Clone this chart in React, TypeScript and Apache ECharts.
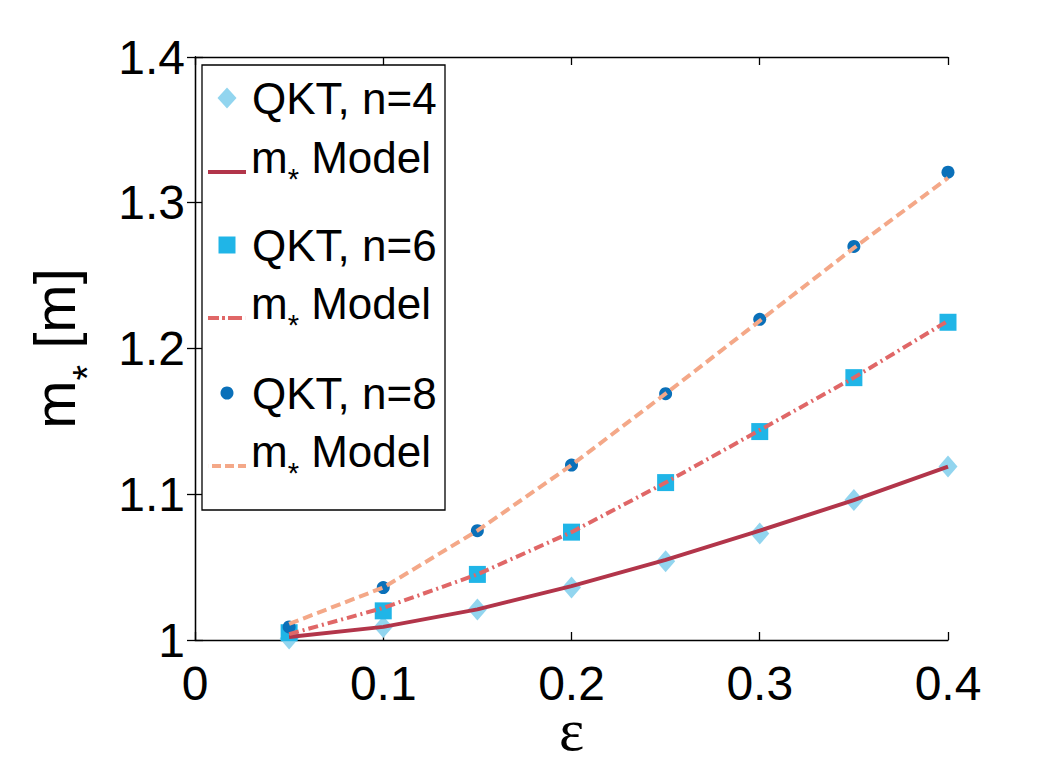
import React, { useEffect, useRef } from "react";
import * as echarts from "echarts";

const eps = [0.05, 0.1, 0.15, 0.2, 0.25, 0.3, 0.35, 0.4];
const qkt4 = [1.001, 1.009, 1.021, 1.036, 1.054, 1.073, 1.096, 1.119];
const model4 = [1.002, 1.009, 1.021, 1.037, 1.055, 1.075, 1.096, 1.119];
const qkt6 = [1.005, 1.020, 1.045, 1.074, 1.108, 1.143, 1.180, 1.218];
const model6 = [1.004, 1.022, 1.045, 1.074, 1.108, 1.144, 1.180, 1.219];
const qkt8 = [1.009, 1.036, 1.075, 1.120, 1.169, 1.220, 1.270, 1.321];
const model8 = [1.011, 1.036, 1.075, 1.120, 1.169, 1.219, 1.269, 1.317];

const SANS = "Liberation Sans";
const pairs = (ys: number[]) => eps.map((x, i) => [x, ys[i]]);

const ICON_SOLID = "path://M0,0h38v4h-38z";
const ICON_DASHDOT = "path://M0,0h11v4h-11z M14,0h3v4h-3z M20,0h14v4h-14z M37.9,0h0.1v4h-0.1z";
const ICON_DASH = "path://M0,0h0.1v4h-0.1z M4,0h9v4h-9z M17,0h9v4h-9z M30,0h8v4h-8z";

export default function App() {
  const ref = useRef<HTMLDivElement>(null);
  useEffect(() => {
    document.body.style.margin = "0";
    const chart = echarts.init(ref.current!, null, { renderer: "svg" });
    const LFS = 44;
    const rich = {
      a: { fontSize: LFS, fontFamily: SANS, color: "#000" },
      s: { fontSize: 29, fontFamily: SANS, color: "#000", height: 2, verticalAlign: "bottom" },
    };
    const fmt = (name: string) =>
      name.startsWith("Model") ? "{a|m}{s|*}{a| Model}" : "{a|" + name + "}";
    const scatterRow = (name: string, cy: number, w: number, h: number) => ({
      data: [name],
      left: 227 - w / 2,
      top: cy - 23,
      padding: 0,
      itemWidth: w,
      itemHeight: h,
      itemGap: 0,
      selectedMode: false,
      formatter: fmt,
      z: 10,
      textStyle: {
        fontSize: LFS,
        fontFamily: SANS,
        color: "#000",
        lineHeight: 46,
        padding: [0, 0, 0, 252 - (227 - w / 2 + w + 5)],
        rich,
      },
    });
    const lineRow = (name: string, cy: number, icon: string) => ({
      data: [{ name, icon }],
      left: 208,
      top: cy - 38,
      padding: 0,
      itemWidth: 38,
      itemHeight: 4,
      itemGap: 0,
      selectedMode: false,
      formatter: fmt,
      z: 10,
      textStyle: {
        fontSize: LFS,
        fontFamily: SANS,
        color: "#000",
        lineHeight: 46,
        padding: [0, 0, 30, 0],
        rich,
      },
    });
    const axisStyle = { lineStyle: { color: "#000", width: 1.3 } };
    const tickStyle = { inside: true, length: 8, lineStyle: { color: "#000", width: 1.3 } };
    chart.setOption({
      animation: false,
      backgroundColor: "#fff",
      grid: {
        left: 195,
        right: 101,
        top: 57,
        bottom: 126,
        containLabel: false,
        outerBoundsMode: "none",
      },
      xAxis: [
        {
          type: "value",
          min: 0,
          max: 0.4,
          interval: 0.1,
          position: "bottom",
          axisLine: axisStyle,
          axisTick: tickStyle,
          splitLine: { show: false },
          axisLabel: {
            fontSize: 48,
            lineHeight: 48,
            fontFamily: SANS,
            color: "#000",
            margin: 19,
          },
          name: "ε",
          nameLocation: "middle",
          nameGap: 70,
          nameMoveOverlap: false,
          nameTextStyle: {
            fontSize: 60,
            lineHeight: 40,
            fontFamily: "Liberation Serif",
            color: "#000",
          },
        },
        {
          type: "value",
          min: 0,
          max: 0.4,
          interval: 0.1,
          position: "top",
          axisLine: axisStyle,
          axisTick: tickStyle,
          splitLine: { show: false },
          axisLabel: { show: false },
        },
      ],
      yAxis: [
        {
          type: "value",
          min: 1,
          max: 1.4,
          interval: 0.1,
          position: "left",
          axisLine: axisStyle,
          axisTick: tickStyle,
          splitLine: { show: false },
          axisLabel: {
            fontSize: 48,
            fontFamily: SANS,
            color: "#000",
            margin: 10,
            padding: [11, 0, 0, 0],
          },
          name: "{a|m}{s|*}{a| [m]}",
          nameLocation: "middle",
          nameGap: 106,
          nameRotate: 90,
          nameTextStyle: {
            lineHeight: 68,
            rich: {
              a: { fontSize: 58, fontFamily: SANS, color: "#000", lineHeight: 68 },
              s: { fontSize: 40, fontFamily: SANS, color: "#000", height: 2, verticalAlign: "bottom" },
            },
          },
        },
        {
          type: "value",
          min: 1,
          max: 1.4,
          interval: 0.1,
          position: "right",
          axisLine: axisStyle,
          axisTick: tickStyle,
          splitLine: { show: false },
          axisLabel: { show: false },
        },
      ],
      legend: [
        scatterRow("QKT, n=4", 98, 19, 21),
        lineRow("Model4", 172, ICON_SOLID),
        scatterRow("QKT, n=6", 245, 17, 17),
        lineRow("Model6", 318, ICON_DASHDOT),
        scatterRow("QKT, n=8", 393, 13, 13),
        lineRow("Model8", 466, ICON_DASH),
      ],
      graphic: [
        {
          type: "rect",
          z: 3,
          shape: { x: 202, y: 65, width: 243, height: 445 },
          style: { fill: "#fff", stroke: "#000", lineWidth: 1.3 },
        },
      ],
      series: [
        {
          name: "QKT, n=4",
          type: "scatter",
          data: pairs(qkt4),
          symbol: "diamond",
          symbolSize: [19, 22],
          itemStyle: { color: "#92d5ef", opacity: 1 },
        },
        {
          name: "QKT, n=6",
          type: "scatter",
          data: pairs(qkt6),
          symbol: "rect",
          symbolSize: 17,
          itemStyle: { color: "#20b5e7", opacity: 1 },
        },
        {
          name: "QKT, n=8",
          type: "scatter",
          data: pairs(qkt8),
          symbol: "circle",
          symbolSize: 13,
          itemStyle: { color: "#0a70b9", opacity: 1 },
        },
        {
          name: "Model4",
          type: "line",
          data: pairs(model4),
          symbol: "none",
          lineStyle: { color: "#b2354a", width: 4, type: "solid" },
          itemStyle: { color: "#b2354a" },
        },
        {
          name: "Model6",
          type: "line",
          data: pairs(model6),
          symbol: "none",
          lineStyle: { color: "#e06767", width: 4, type: [10, 4, 2, 4] },
          itemStyle: { color: "#e06767" },
        },
        {
          name: "Model8",
          type: "line",
          data: pairs(model8),
          symbol: "none",
          lineStyle: { color: "#f4a888", width: 4, type: [10, 5] },
          itemStyle: { color: "#f4a888" },
        },
      ],
    });
    return () => chart.dispose();
  }, []);
  return <div ref={ref} style={{ width: 1049, height: 766 }} />;
}
